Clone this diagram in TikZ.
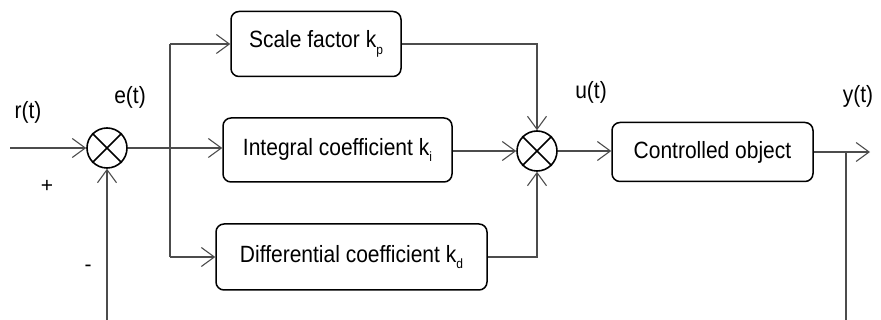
\documentclass[tikz,border=0pt]{standalone}
\usepackage{fontspec}
\usepackage{graphicx}
\setmainfont{Liberation Sans}
\usetikzlibrary{arrows.meta}
\newcommand{\vst}[1]{\scalebox{1}[1.12]{#1}}
\newcommand{\sbs}[1]{\raisebox{-6pt}{\fontsize{12}{14}\selectfont #1}}
\begin{document}
\begin{tikzpicture}[x=1pt,y=-1pt,
  blk/.style={draw=black,line width=1.5pt,rounded corners=8pt,inner sep=0pt,
    font=\fontsize{21}{25}\selectfont},
  sumnode/.style={circle,draw=black,line width=1.6pt,minimum size=40pt,inner sep=0pt},
  conn/.style={draw=black!70,line width=1.1pt},
  arr/.style={conn,-{Straight Barb[length=13pt,width=19pt]}},
  lbl/.style={font=\fontsize{21}{25}\selectfont,inner sep=0pt}]
\useasboundingbox (0,0) rectangle (881,320);

% blocks
\node[blk,minimum width=170pt,minimum height=65pt] (sc) at (316,44) {\vst{Scale factor k\sbs{p}}};
\node[blk,minimum width=229pt,minimum height=64pt] (in) at (337.5,150) {\vst{Integral coefficient k\sbs{i}}};
\node[blk,minimum width=271pt,minimum height=66pt] (df) at (351.5,257) {\vst{Differential coefficient k\sbs{d}}};
\node[blk,minimum width=201pt,minimum height=59pt] (co) at (712.5,152) {\vst{Controlled object}};

% summing junctions
\node[sumnode] (s1) at (107,148) {};
\node[sumnode] (s2) at (537,151) {};
\draw[line width=1.6pt] (s1.45) -- (s1.225) (s1.135) -- (s1.315);
\draw[line width=1.6pt] (s2.45) -- (s2.225) (s2.135) -- (s2.315);

% coordinates
\coordinate (rin) at (10,148);
\coordinate (fb) at (107,320);
\coordinate (br) at (170,148);
\coordinate (yout) at (870,152);
\coordinate (tap) at (846,152);
\coordinate (fbr) at (846,320);

% connectors
\draw[arr] (rin) -- (s1.west);
\draw[arr] (fb) -- (s1.south);
\draw[arr] (s1.east) -- (s1.east -| in.west);
\draw[conn] (br |- sc.west) -- (br |- df.west);
\draw[arr] (br |- sc.west) -- (sc.west);
\draw[arr] (br |- df.west) -- (df.west);
\draw[arr] (sc.east) -| (s2.north);
\draw[arr] (df.east) -| (s2.south);
\draw[arr] (in.east |- s2.west) -- (s2.west);
\draw[arr] (s2.east) -- (s2.east -| co.west);
\draw[arr] (co.east |- yout) -- (yout);
\draw[conn] (tap) -- (fbr);

% labels
\node[lbl] (lr) at (28,112) {\vst{r(t)}};
\node[lbl] (le) at (130,97) {\vst{e(t)}};
\node[lbl] (lu) at (591,92) {\vst{u(t)}};
\node[lbl] (ly) at (858,96) {\vst{y(t)}};
\node[lbl] (lp) at (47,186) {+};
\node[lbl] (lm) at (88,268) {-};
\end{tikzpicture}
\end{document}
